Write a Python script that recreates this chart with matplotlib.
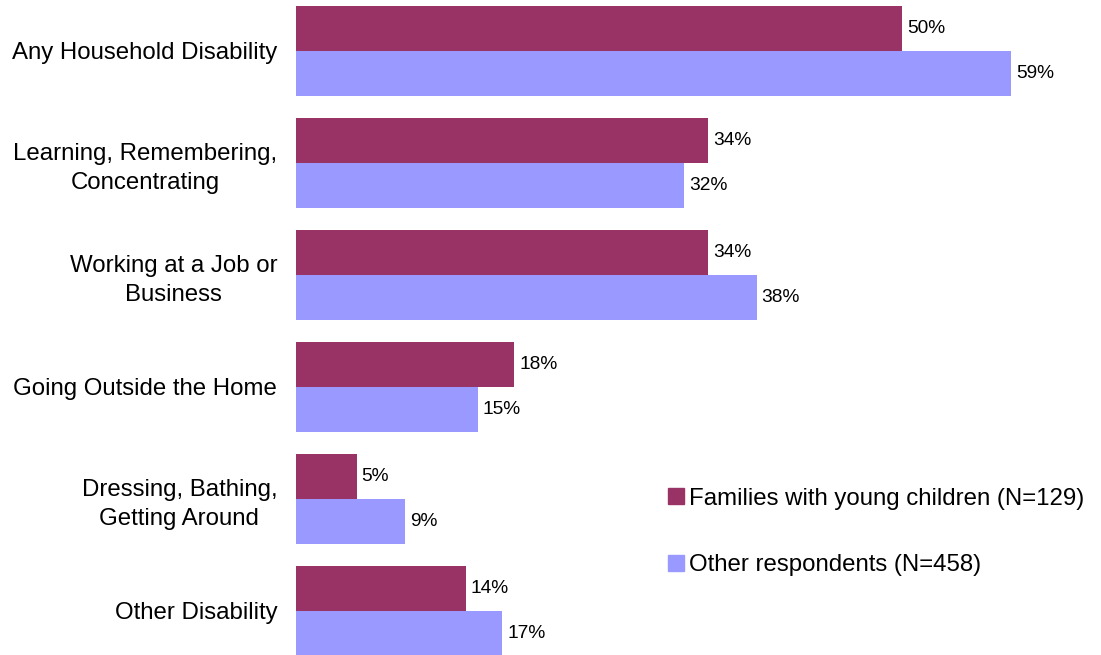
import numpy as np
import matplotlib.pyplot as plt
from matplotlib.lines import Line2D

plt.rcParams['font.family'] = ['Liberation Sans', 'DejaVu Sans']

categories = ['Any Household Disability',
              'Learning, Remembering,\nConcentrating',
              'Working at a Job or\nBusiness',
              'Going Outside the Home',
              'Dressing, Bathing,\nGetting Around',
              'Other Disability']
families = [50, 34, 34, 18, 5, 14]
others = [59, 32, 38, 15, 9, 17]
series_names = ['Families with young children (N=129)', 'Other respondents (N=458)']

color_fam = '#993366'
color_oth = '#9999FF'

fig = plt.figure(figsize=(11.01, 6.55), dpi=100)
ax = fig.add_axes([296 / 1101, 0, 800 / 1101, 1])

y = np.arange(len(categories))
h = 0.4
b1 = ax.barh(y - h / 2, families, height=h, color=color_fam)
b2 = ax.barh(y + h / 2, others, height=h, color=color_oth)

for bars, vals in ((b1, families), (b2, others)):
    for bar, v in zip(bars, vals):
        ax.annotate(f'{v}%', (bar.get_width(), bar.get_y() + bar.get_height() / 2),
                    xytext=(3.6, 0), textcoords='offset points',
                    ha='left', va='center', fontsize=13.8, color='black')

ax.set_xlim(0, 66)
ax.set_ylim(5.393, -0.455)
ax.set_yticks(y)
ax.set_yticklabels(categories, fontsize=17.3, multialignment='center', linespacing=1.4)
ax.tick_params(axis='y', length=0, pad=13.5)
ax.set_xticks([])
for s in ax.spines.values():
    s.set_visible(False)

handles = [Line2D([], [], marker='s', linestyle='none', markersize=11,
                  markerfacecolor=c, markeredgecolor=c) for c in (color_fam, color_oth)]
fig.legend(handles, series_names, loc='center left', bbox_to_anchor=(652 / 1101, 1 - 532 / 655),
           frameon=False, fontsize=17.3, handletextpad=0.05, labelspacing=1.85,
           handlelength=1.0, borderpad=0)

fig.savefig('out.png', dpi=100)
